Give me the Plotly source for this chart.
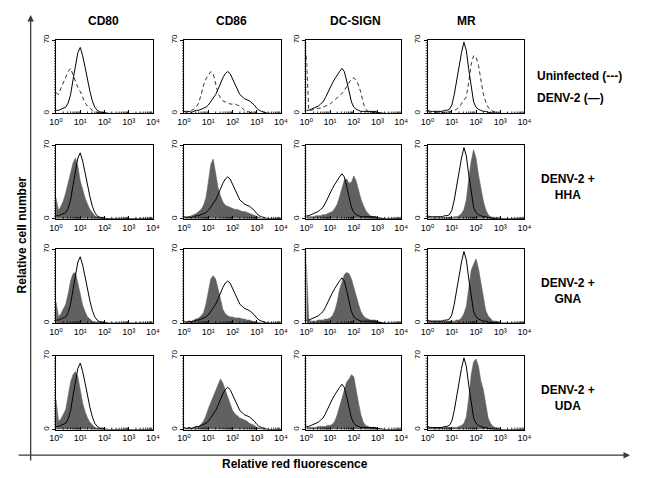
import plotly.graph_objects as go

# ---------------- data ----------------
# bin centres, as log10 of relative red fluorescence
LOG_BINS = [0.0, 0.1, 0.2, 0.3, 0.4, 0.5, 0.6, 0.7, 0.8, 0.9,
            1.0, 1.1, 1.2, 1.3, 1.4, 1.5, 1.6, 1.7, 1.8, 1.9,
            2.0, 2.1, 2.2, 2.3, 2.4, 2.5, 2.6, 2.7, 2.8, 2.9,
            3.0, 3.1, 3.2, 3.3, 3.4, 3.5, 3.6, 3.7, 3.8, 3.9, 4.0]

MARKERS = ["CD80", "CD86", "DC-SIGN", "MR"]
ROW_TEXT = ["", "DENV-2 +<br>HHA", "DENV-2 +<br>GNA", "DENV-2 +<br>UDA"]
LEGEND_TEXT = ["Uninfected (---)", "DENV-2 (\u2014)"]
X_TICK_VALUES = [1, 10, 100, 1000, 10000]
X_TICK_TEXT = ["10\u2070", "10\u00b9", "10\u00b2", "10\u00b3", "10\u2074"]
Y_TICK_VALUES = [0, 70]
Y_TICK_TEXT = ["0", "70"]

CD80_UNINFECTED = [20, 18, 24, 29, 35, 40, 43, 37, 30, 25, 21, 15, 10, 7, 5, 3, 2, 1, 1, 0.5,
                   0.5, 0, 0, 0, 0, 0, 0, 0, 0, 0, 0, 0, 0, 0, 0, 0, 0, 0, 0, 0, 0]
CD80_DENV2 = [3, 3, 4, 5, 6, 10, 18, 32, 47, 58, 63, 55, 44, 32, 21, 12, 6, 3, 1.5, 1,
              0.5, 0, 0, 0, 0, 0, 0, 0, 0, 0, 0, 0, 0, 0, 0, 0, 0, 0, 0, 0, 0]
CD80_HHA = [20, 8, 12, 17, 25, 34, 45, 53, 58, 50, 36, 27, 20, 14, 9, 6, 3, 2, 1, 0.5,
            0, 0, 0, 0, 0, 0, 0, 0, 0, 0, 0, 0, 0, 0, 0, 0, 0, 0, 0, 0, 0]
CD80_GNA = [20, 6, 9, 13, 18, 28, 40, 47, 48, 38, 26, 17, 11, 6, 4, 2, 1, 1, 0.5, 0,
            0, 0, 0, 0, 0, 0, 0, 0, 0, 0, 0, 0, 0, 0, 0, 0, 0, 0, 0, 0, 0]
CD80_UDA = [28, 8, 10, 14, 19, 32, 45, 52, 55, 50, 38, 25, 17, 11, 7, 4, 2, 1, 0.5, 0,
            0, 0, 0, 0, 0, 0, 0, 0, 0, 0, 0, 0, 0, 0, 0, 0, 0, 0, 0, 0, 0]

CD86_UNINFECTED = [2, 2, 2, 3, 4, 6, 10, 18, 27, 33, 37, 40, 38, 28, 19, 15, 12, 11, 10, 9,
                   9, 9, 8, 7, 5, 3, 2, 1, 0.5, 0, 0, 0, 0, 0, 0, 0, 0, 0, 0, 0, 0]
CD86_DENV2 = [2, 1, 2, 1, 2, 3, 3, 4, 5, 6, 8, 11, 14, 18, 23, 29, 34, 38, 40, 38,
              33, 27, 22, 18, 16, 14, 13, 12, 10, 8, 5, 3, 2, 1, 0.5, 0, 0, 0, 0, 0, 0]
CD86_HHA = [2, 2, 2, 3, 4, 5, 7, 9, 13, 20, 35, 52, 57, 42, 30, 22, 16, 13, 12, 11,
            10, 9, 9, 8, 7, 7, 6, 5, 4, 3, 2, 1, 0.5, 0, 0, 0, 0, 0, 0, 0, 0]
CD86_GNA = [1, 1, 2, 2, 3, 4, 5, 7, 10, 18, 32, 42, 45, 42, 33, 22, 13, 9, 7, 6,
            6, 5, 5, 5, 4, 4, 3, 3, 2, 1, 1, 0.5, 0, 0, 0, 0, 0, 0, 0, 0, 0]
CD86_UDA = [2, 1, 2, 1, 2, 2, 3, 5, 8, 13, 20, 26, 32, 38, 44, 48, 44, 37, 30, 23,
            18, 15, 13, 11, 10, 9, 8, 6, 5, 4, 2, 1.5, 1, 0.5, 0, 0, 0, 0, 0, 0, 0]

DCSIGN_UNINFECTED = [55, 3, 3, 4, 4, 5, 5, 6, 7, 8, 9, 11, 13, 15, 17, 19, 22, 26, 30, 33,
                     34, 32, 27, 20, 10, 4, 2, 1, 1, 0.5, 0.5, 0, 0, 0, 0, 0, 0, 0, 0, 0, 0]
DCSIGN_DENV2 = [3, 3, 4, 5, 6, 7, 9, 11, 15, 20, 25, 29, 33, 37, 40, 43, 40, 31, 20, 11,
                6, 4, 3, 2, 2, 2, 1.5, 1.5, 2, 2, 1, 0.5, 0, 0, 0, 0, 0, 0, 0, 0, 0]
DCSIGN_HHA = [3, 2, 2, 2, 3, 3, 3, 4, 4, 5, 6, 7, 10, 14, 21, 29, 37, 38, 34, 35,
              41, 36, 26, 19, 13, 8, 5, 3, 2, 2, 1.5, 1, 0.5, 0, 0, 0, 0, 0, 0, 0, 0]
DCSIGN_GNA = [56, 3, 2, 2, 2, 3, 3, 3, 4, 4, 5, 7, 12, 20, 32, 40, 46, 48, 47, 42,
              35, 26, 18, 11, 7, 5, 4, 3, 3, 3, 2, 1, 0.5, 0, 0, 0, 0, 0, 0, 0, 0]
DCSIGN_UDA = [4, 2, 2, 2, 2, 3, 3, 3, 3, 4, 4, 5, 8, 14, 22, 30, 38, 45, 48, 52,
              50, 36, 25, 14, 7, 4, 3, 2, 2, 2, 1.5, 1, 0.5, 0, 0, 0, 0, 0, 0, 0, 0]

MR_UNINFECTED = [2, 1, 1, 1, 1, 1, 1, 1, 1, 2, 2, 3, 4, 6, 9, 13, 16, 30, 47, 55,
                 54, 46, 30, 19, 11, 6, 3, 2, 1, 0.5, 0, 0, 0, 0, 0, 0, 0, 0, 0, 0, 0]
MR_DENV2 = [3, 2, 2, 2, 2, 2, 2, 3, 3, 4, 8, 18, 32, 46, 58, 68, 60, 42, 24, 11,
            6, 4, 3, 2, 2, 1, 0.5, 0.5, 0, 0, 0, 0, 0, 0, 0, 0, 0, 0, 0, 0, 0]
MR_HHA = [2, 1, 1, 1, 1, 1, 1, 1, 1, 1, 1, 2, 2, 3, 5, 9, 18, 38, 55, 66,
          58, 42, 28, 17, 9, 4, 2, 1, 0.5, 0, 0, 0, 0, 0, 0, 0, 0, 0, 0, 0, 0]
MR_GNA = [2, 2, 2, 2, 2, 2, 2, 2, 2, 2, 2, 2, 3, 3, 5, 9, 16, 32, 50, 56,
          61, 52, 38, 24, 12, 7, 4, 2, 2, 1, 0.5, 0, 0, 0, 0, 0, 0, 0, 0, 0, 0]
MR_UDA = [2, 2, 2, 2, 2, 2, 2, 2, 2, 2, 2, 2, 2, 3, 4, 6, 12, 30, 52, 64,
          67, 60, 46, 38, 22, 11, 6, 3, 2, 1, 0.5, 0, 0, 0, 0, 0, 0, 0, 0, 0, 0]

UNINFECTED = [CD80_UNINFECTED, CD86_UNINFECTED, DCSIGN_UNINFECTED, MR_UNINFECTED]
DENV2 = [CD80_DENV2, CD86_DENV2, DCSIGN_DENV2, MR_DENV2]
TREATED = [
    [CD80_HHA, CD86_HHA, DCSIGN_HHA, MR_HHA],
    [CD80_GNA, CD86_GNA, DCSIGN_GNA, MR_GNA],
    [CD80_UDA, CD86_UDA, DCSIGN_UDA, MR_UDA],
]

# ---------------- layout geometry (page pixels) ----------------
PAGE_W, PAGE_H = 646, 478
OFF = 8                      # default body margin of the html page
W, H = PAGE_W - 2 * OFF, PAGE_H - 2 * OFF
COL_PX = [(50, 149), (181, 280), (306, 403), (430, 529)]
ROW_PX = [(34.5, 109), (141.5, 216), (247, 322), (355, 430)]
TITLE_X = [98, 229, 356, 470]
FONT = "Arial, 'Liberation Sans', sans-serif"
TICK_FONT = "Arial, 'Liberation Sans', 'DejaVu Sans', sans-serif"
FILL = "#616161"


def px_x(v):
    return (v - OFF) / W


def px_y(v):
    return 1 - (v - OFF) / H


fluor = [10 ** b for b in LOG_BINS]
# axis decoration tick positions
minor_x = [m * 10 ** d for d in range(4) for m in range(2, 10)]
minor_y = [2.5 * k for k in range(1, 28)]

fig = go.Figure()
layout_axes = {}
shapes = []
for r in range(4):
    for c in range(4):
        n = r * 4 + c + 1
        xa = "x" if n == 1 else f"x{n}"
        ya = "y" if n == 1 else f"y{n}"
        if r == 0:
            fig.add_trace(go.Scatter(x=fluor, y=UNINFECTED[c], mode="lines",
                                     line=dict(color="#333333", width=1, dash="4px,3px"),
                                     xaxis=xa, yaxis=ya, hoverinfo="skip"))
        else:
            fig.add_trace(go.Scatter(x=fluor, y=TREATED[r - 1][c], mode="lines",
                                     fill="tozeroy", fillcolor=FILL,
                                     line=dict(color=FILL, width=0.6),
                                     xaxis=xa, yaxis=ya, hoverinfo="skip"))
        fig.add_trace(go.Scatter(x=fluor, y=DENV2[c], mode="lines",
                                 line=dict(color="black", width=1),
                                 xaxis=xa, yaxis=ya, hoverinfo="skip"))
        x0, x1 = COL_PX[c]
        y0, y1 = ROW_PX[r]
        kx = "xaxis" if n == 1 else f"xaxis{n}"
        ky = "yaxis" if n == 1 else f"yaxis{n}"
        layout_axes[kx] = dict(
            type="log", range=[0, 4], domain=[px_x(x0), px_x(x1)],
            anchor=ya, showline=True, linecolor="black", linewidth=1, mirror=True,
            showgrid=False, zeroline=False,
            tickmode="array", tickvals=X_TICK_VALUES, ticktext=X_TICK_TEXT,
            ticks="inside", ticklen=3, tickcolor="black", tickwidth=1,
            tickfont=dict(family=TICK_FONT, size=9, color="black"),
        )
        layout_axes[ky] = dict(
            range=[0, 70], domain=[px_y(y1), px_y(y0)],
            anchor=xa, showline=True, linecolor="black", linewidth=1, mirror=True,
            showgrid=False, zeroline=False,
            tickmode="array", tickvals=Y_TICK_VALUES, ticktext=Y_TICK_TEXT,
            tickangle=-90, ticks="outside", ticklen=3, tickcolor="black",
            tickfont=dict(family=FONT, size=8, color="black"),
        )
        for v in minor_x:
            shapes.append(dict(type="line", xref=xa, yref=f"{ya} domain",
                               x0=v, x1=v, ysizemode="pixel", yanchor=0, y0=0, y1=2,
                               line=dict(color="black", width=0.8)))
        for v in minor_y:
            shapes.append(dict(type="line", yref=ya, xref=f"{xa} domain",
                               y0=v, y1=v, xsizemode="pixel", xanchor=0, x0=-2, x1=0,
                               line=dict(color="black", width=0.8)))


def label(text, x, y, xanchor="center", angle=0, size=12):
    return dict(text=text, x=px_x(x), y=px_y(y), xref="paper", yref="paper",
                xanchor=xanchor, yanchor="middle", showarrow=False, align="center",
                textangle=angle, font=dict(family=FONT, size=size, color="black"))


annotations = []
for c, name in enumerate(MARKERS):
    annotations.append(label(f"<b>{name}</b>", TITLE_X[c], 15))

annotations.append(label(f"<b>{LEGEND_TEXT[0]}</b>", 540, 71, xanchor="left"))
annotations.append(label(f"<b>{LEGEND_TEXT[1]}</b>", 540, 93, xanchor="left"))
for r in range(1, 4):
    y0, y1 = ROW_PX[r]
    annotations.append(label(f"<b>{ROW_TEXT[r]}</b>", 574, (y0 + y1) / 2 + 5))

annotations.append(label("<b>Relative cell number</b>", 15, 232, angle=-90))
annotations.append(label("<b>Relative red fluorescence</b>", 294, 465))

# outer arrows
annotations.append(dict(text="", x=px_x(24), y=px_y(9), xref="paper", yref="paper",
                        ax=0, ay=447, showarrow=True, arrowhead=2, arrowsize=1,
                        arrowwidth=1.3, arrowcolor="#3a3a3a"))
annotations.append(dict(text="", x=px_x(637), y=px_y(456), xref="paper", yref="paper",
                        ax=-613, ay=0, showarrow=True, arrowhead=2, arrowsize=1,
                        arrowwidth=1.3, arrowcolor="#3a3a3a"))

fig.update_layout(
    width=W, height=H, autosize=False,
    margin=dict(l=0, r=0, t=0, b=0),
    paper_bgcolor="white", plot_bgcolor="white",
    showlegend=False, hovermode=False,
    annotations=annotations, shapes=shapes,
    **layout_axes,
)

fig.write_html("out.html", config={"displayModeBar": False, "staticPlot": True})
